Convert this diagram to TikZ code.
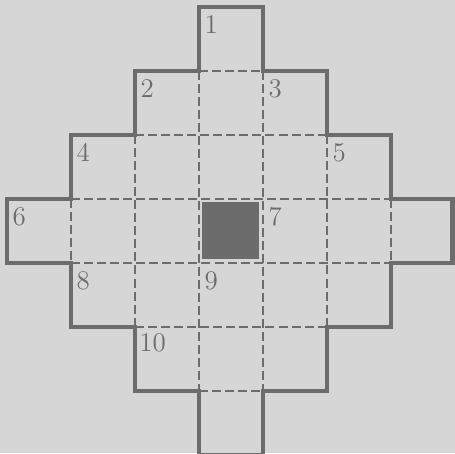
\documentclass[tikz,border=0pt]{standalone}
\usepackage{tikz}
\usetikzlibrary{positioning}
\definecolor{paper}{HTML}{D6D6D6}
\definecolor{ink}{HTML}{6C6C6C}

\begin{document}
\begin{tikzpicture}[x=1cm, y=1cm, every node/.style={font=\large, text=ink}]
      \tikzstyle{wall}=[draw=ink, line width=2pt, line join=miter]
      \tikzstyle{seam}=[draw=ink, line width=0.9pt, dash pattern=on 4pt off 1.8pt]
      \tikzstyle{num}=[anchor=north west, inner sep=0pt]
      \fill[paper] (-0.11,0.11) rectangle (7.0,-6.97);
      \useasboundingbox (-0.11,0.11) rectangle (7.0,-6.97);
      \fill[ink] (3.04,-3.05) rectangle (3.93,-3.94);
      \draw[seam] (3,-1) -- (4,-1) (2,-2) -- (5,-2) (1,-3) -- (6,-3)
                  (1,-4) -- (6,-4) (2,-5) -- (5,-5) (3,-6) -- (4,-6);
      \draw[seam] (1,-3) -- (1,-4) (2,-2) -- (2,-5) (3,-1) -- (3,-6)
                  (4,-1) -- (4,-6) (5,-2) -- (5,-5) (6,-3) -- (6,-4);
      \draw[wall] (3,0) -- (4,0) -- (4,-1) -- (5,-1) -- (5,-2) -- (6,-2) -- (6,-3)
                  -- (6.96,-3) -- (6.96,-4) -- (6,-4) -- (6,-5) -- (5,-5) -- (5,-6)
                  -- (4,-6) -- (4,-7) -- (3,-7) -- (3,-6) -- (2,-6) -- (2,-5)
                  -- (1,-5) -- (1,-4) -- (0,-4) -- (0,-3) -- (1,-3) -- (1,-2)
                  -- (2,-2) -- (2,-1) -- (3,-1) -- cycle;
      \node[num] (n1) at (3.08,-0.12) {1};
      \node[num] (n2) at (2.08,-1.12) {2};
      \node[num] (n3) at (4.08,-1.12) {3};
      \node[num] (n4) at (1.08,-2.12) {4};
      \node[num] (n5) at (5.08,-2.12) {5};
      \node[num] (n6) at (0.08,-3.12) {6};
      \node[num] (n7) at (4.08,-3.12) {7};
      \node[num] (n8) at (1.08,-4.12) {8};
      \node[num] (n9) at (3.08,-4.12) {9};
      \node[num] (n10) at (2.06,-5.1) {10};
    \end{tikzpicture}
\end{document}
